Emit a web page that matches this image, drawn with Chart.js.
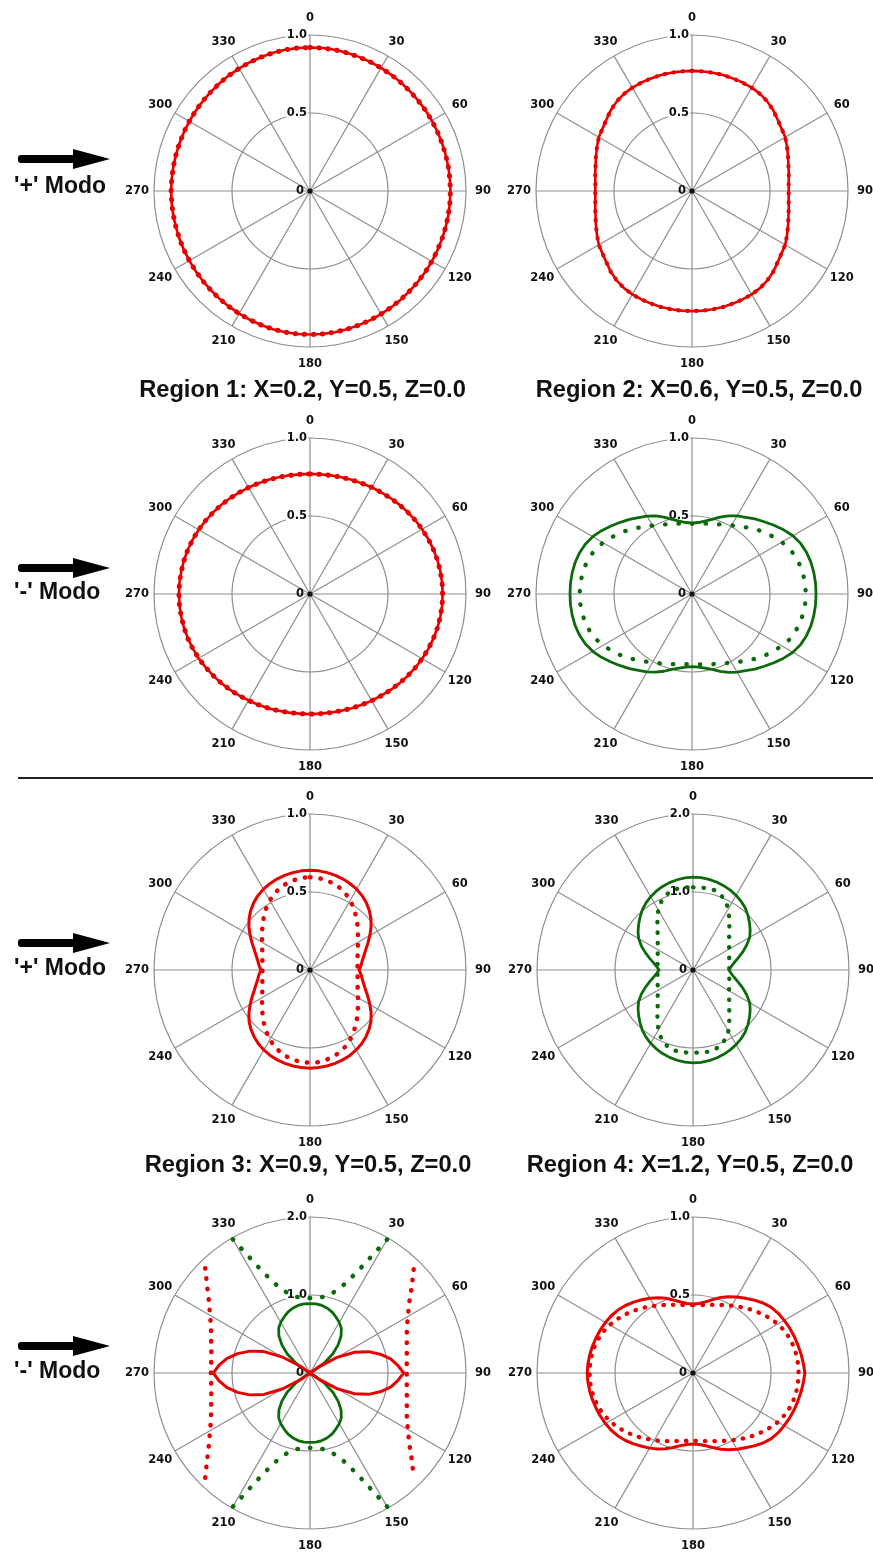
<!DOCTYPE html>
<html>
<head>
<meta charset="utf-8">
<script src="https://cdn.jsdelivr.net/npm/chart.js@4.4.1/dist/chart.umd.min.js"></script>
<style>
  html, body { margin: 0; padding: 0; background: #fff; }
  body { width: 873px; height: 1554px; position: relative; overflow: hidden;
         font-family: "Liberation Sans", Arial, sans-serif; color: #111; }
  canvas.polar { position: absolute; }
  .title { position: absolute; font-weight: bold; font-size: 23.7px; line-height: 1;
           white-space: nowrap; transform: translateX(-50%); }
  .mode { position: absolute; left: 14px; font-weight: bold; font-size: 23px; line-height: 1;
          white-space: nowrap; }
  .arrow { position: absolute; left: 16px; }
  .rule { position: absolute; left: 18px; right: 0; top: 777px; height: 2px; background: #222; }
</style>
</head>
<body>
<script>
// Angular categories (degrees, clockwise from the top)
const ANGLES = [
  0, 5, 10, 15, 20, 25, 30, 35, 40, 45, 50, 55, 60, 65, 70, 75, 80, 85,
  90, 95, 100, 105, 110, 115, 120, 125, 130, 135, 140, 145, 150, 155, 160, 165, 170, 175,
  180, 185, 190, 195, 200, 205, 210, 215, 220, 225, 230, 235, 240, 245, 250, 255, 260, 265,
  270, 275, 280, 285, 290, 295, 300, 305, 310, 315, 320, 325, 330, 335, 340, 345, 350, 355
];
// Angles that carry a label and a spoke
const ANGLE_TICKS = [0, 30, 60, 90, 120, 150, 180, 210, 240, 270, 300, 330];

const TITLES = [
  'Region 1: X=0.2, Y=0.5, Z=0.0',
  'Region 2: X=0.6, Y=0.5, Z=0.0',
  'Region 3: X=0.9, Y=0.5, Z=0.0',
  'Region 4: X=1.2, Y=0.5, Z=0.0'
];
const MODES = ["'+' Modo", "'-' Modo", "'+' Modo", "'-' Modo"];

// Region 1, '+' mode
const R1_PLUS = [
  0.920, 0.920, 0.919, 0.917, 0.915, 0.913, 0.911, 0.909, 0.907, 0.905, 0.904, 0.903, 0.902, 0.901, 0.900, 0.900, 0.900, 0.900,
  0.900, 0.900, 0.900, 0.900, 0.900, 0.901, 0.902, 0.903, 0.904, 0.905, 0.907, 0.909, 0.911, 0.913, 0.915, 0.917, 0.919, 0.920,
  0.920, 0.920, 0.919, 0.917, 0.914, 0.911, 0.908, 0.905, 0.902, 0.899, 0.897, 0.895, 0.893, 0.892, 0.891, 0.890, 0.890, 0.890,
  0.890, 0.890, 0.890, 0.890, 0.891, 0.892, 0.893, 0.895, 0.897, 0.899, 0.902, 0.905, 0.908, 0.911, 0.914, 0.917, 0.919, 0.920
];
// Region 2, '+' mode
const R2_PLUS = [
  0.770, 0.770, 0.770, 0.770, 0.768, 0.767, 0.765, 0.760, 0.750, 0.735, 0.715, 0.700, 0.690, 0.672, 0.655, 0.640, 0.630, 0.622,
  0.620, 0.622, 0.630, 0.640, 0.655, 0.672, 0.690, 0.700, 0.715, 0.735, 0.750, 0.760, 0.765, 0.767, 0.768, 0.770, 0.770, 0.770,
  0.770, 0.770, 0.770, 0.770, 0.768, 0.767, 0.765, 0.760, 0.750, 0.735, 0.715, 0.700, 0.690, 0.672, 0.655, 0.640, 0.630, 0.622,
  0.620, 0.622, 0.630, 0.640, 0.655, 0.672, 0.690, 0.700, 0.715, 0.735, 0.750, 0.760, 0.765, 0.767, 0.768, 0.770, 0.770, 0.770
];
// Region 1, '-' mode
const R1_MINUS = [
  0.770, 0.770, 0.772, 0.775, 0.779, 0.784, 0.790, 0.796, 0.803, 0.810, 0.817, 0.824, 0.830, 0.836, 0.841, 0.845, 0.848, 0.850,
  0.850, 0.850, 0.848, 0.845, 0.841, 0.836, 0.830, 0.824, 0.817, 0.810, 0.803, 0.796, 0.790, 0.784, 0.779, 0.775, 0.772, 0.770,
  0.770, 0.770, 0.772, 0.775, 0.779, 0.783, 0.788, 0.794, 0.800, 0.806, 0.812, 0.818, 0.824, 0.829, 0.833, 0.836, 0.838, 0.840,
  0.840, 0.840, 0.838, 0.836, 0.833, 0.829, 0.824, 0.818, 0.812, 0.806, 0.800, 0.794, 0.788, 0.783, 0.779, 0.775, 0.772, 0.770
];
// Region 2, '-' mode
const R2_MINUS_SOLID = [
  0.455, 0.460, 0.475, 0.495, 0.525, 0.553, 0.578, 0.600, 0.628, 0.655, 0.685, 0.717, 0.747, 0.768, 0.781, 0.789, 0.793, 0.795,
  0.795, 0.795, 0.793, 0.789, 0.781, 0.768, 0.747, 0.717, 0.685, 0.655, 0.628, 0.600, 0.578, 0.555, 0.528, 0.500, 0.482, 0.470,
  0.465, 0.470, 0.482, 0.500, 0.527, 0.553, 0.576, 0.598, 0.624, 0.650, 0.678, 0.708, 0.735, 0.755, 0.768, 0.776, 0.780, 0.782,
  0.782, 0.782, 0.780, 0.776, 0.768, 0.755, 0.735, 0.708, 0.678, 0.650, 0.624, 0.598, 0.576, 0.553, 0.525, 0.495, 0.475, 0.460
];
const R2_MINUS_DOTTED = [
  0.450, 0.452, 0.458, 0.466, 0.476, 0.490, 0.508, 0.530, 0.555, 0.585, 0.612, 0.638, 0.665, 0.690, 0.705, 0.716, 0.724, 0.728,
  0.730, 0.728, 0.724, 0.716, 0.705, 0.690, 0.665, 0.638, 0.612, 0.585, 0.555, 0.530, 0.508, 0.490, 0.476, 0.466, 0.458, 0.452,
  0.450, 0.452, 0.458, 0.466, 0.476, 0.490, 0.507, 0.528, 0.552, 0.580, 0.606, 0.632, 0.658, 0.682, 0.697, 0.708, 0.715, 0.719,
  0.720, 0.719, 0.715, 0.708, 0.697, 0.682, 0.658, 0.632, 0.606, 0.580, 0.552, 0.528, 0.507, 0.490, 0.476, 0.466, 0.458, 0.452
];
// Region 3, '+' mode
const R3_PLUS_SOLID = [
  0.640, 0.638, 0.634, 0.628, 0.620, 0.610, 0.598, 0.582, 0.562, 0.538, 0.510, 0.478, 0.443, 0.410, 0.380, 0.358, 0.340, 0.328,
  0.315, 0.328, 0.340, 0.358, 0.380, 0.410, 0.443, 0.478, 0.510, 0.536, 0.558, 0.577, 0.592, 0.604, 0.613, 0.620, 0.625, 0.628,
  0.630, 0.628, 0.625, 0.620, 0.613, 0.604, 0.592, 0.577, 0.558, 0.536, 0.510, 0.478, 0.443, 0.410, 0.380, 0.358, 0.340, 0.328,
  0.315, 0.328, 0.340, 0.358, 0.380, 0.410, 0.443, 0.478, 0.510, 0.538, 0.562, 0.582, 0.598, 0.610, 0.620, 0.628, 0.634, 0.638
];
const R3_PLUS_DOTTED = [
  0.595, 0.593, 0.586, 0.575, 0.560, 0.540, 0.515, 0.487, 0.457, 0.428, 0.400, 0.375, 0.355, 0.338, 0.325, 0.316, 0.310, 0.306,
  0.305, 0.306, 0.310, 0.316, 0.325, 0.338, 0.355, 0.375, 0.400, 0.428, 0.457, 0.487, 0.515, 0.540, 0.560, 0.575, 0.586, 0.593,
  0.595, 0.593, 0.586, 0.575, 0.560, 0.540, 0.515, 0.487, 0.457, 0.428, 0.400, 0.375, 0.355, 0.338, 0.325, 0.316, 0.310, 0.306,
  0.305, 0.306, 0.310, 0.316, 0.325, 0.338, 0.355, 0.375, 0.400, 0.428, 0.457, 0.487, 0.515, 0.540, 0.560, 0.575, 0.586, 0.593
];
// Region 4, '+' mode
const R4_PLUS_SOLID = [
  1.190, 1.188, 1.180, 1.168, 1.150, 1.130, 1.105, 1.075, 1.040, 0.995, 0.945, 0.895, 0.840, 0.760, 0.680, 0.600, 0.535, 0.490,
  0.460, 0.490, 0.535, 0.600, 0.680, 0.760, 0.840, 0.895, 0.945, 0.995, 1.040, 1.075, 1.105, 1.130, 1.150, 1.168, 1.180, 1.188,
  1.190, 1.186, 1.175, 1.160, 1.140, 1.115, 1.085, 1.050, 1.010, 0.960, 0.910, 0.860, 0.805, 0.730, 0.650, 0.575, 0.510, 0.465,
  0.435, 0.465, 0.510, 0.575, 0.650, 0.730, 0.805, 0.860, 0.910, 0.960, 1.010, 1.050, 1.085, 1.115, 1.140, 1.160, 1.175, 1.186
];
const R4_PLUS_DOTTED = [
  1.060, 1.062, 1.065, 1.060, 1.030, 0.980, 0.905, 0.810, 0.725, 0.655, 0.605, 0.565, 0.535, 0.510, 0.494, 0.482, 0.472, 0.466,
  0.465, 0.466, 0.472, 0.482, 0.494, 0.510, 0.535, 0.565, 0.605, 0.655, 0.725, 0.810, 0.905, 0.980, 1.030, 1.060, 1.065, 1.062,
  1.060, 1.062, 1.063, 1.055, 1.020, 0.965, 0.890, 0.795, 0.710, 0.640, 0.590, 0.552, 0.523, 0.499, 0.483, 0.471, 0.462, 0.456,
  0.455, 0.456, 0.462, 0.471, 0.483, 0.499, 0.523, 0.552, 0.590, 0.640, 0.710, 0.795, 0.890, 0.965, 1.020, 1.055, 1.063, 1.062
];
// Region 3, '-' mode (values beyond the outer ring are left empty)
const R3_MINUS_RED_SOLID = [
  0, 0, 0, 0, 0, 0, 0, 0, 0, 0, 0, 0.15, 0.40, 0.63, 0.80, 0.93, 1.05, 1.13,
  1.20, 1.13, 1.05, 0.93, 0.80, 0.63, 0.40, 0.15, 0, 0, 0, 0, 0, 0, 0, 0, 0, 0,
  0, 0, 0, 0, 0, 0, 0, 0, 0, 0, 0, 0.15, 0.41, 0.65, 0.82, 0.96, 1.08, 1.17,
  1.24, 1.17, 1.08, 0.96, 0.82, 0.65, 0.41, 0.15, 0, 0, 0, 0, 0, 0, 0, 0, 0, 0
];
const R3_MINUS_RED_DOTTED = [
  null, null, null, null, null, null, null, null, null, 1.88, 1.70, 1.55, 1.45, 1.37, 1.32, 1.285, 1.26, 1.245,
  1.24, 1.245, 1.26, 1.285, 1.32, 1.37, 1.45, 1.55, 1.70, 1.88, null, null, null, null, null, null, null, null,
  null, null, null, null, null, null, null, null, null, 1.90, 1.72, 1.58, 1.48, 1.40, 1.35, 1.31, 1.285, 1.272,
  1.27, 1.272, 1.285, 1.31, 1.35, 1.40, 1.48, 1.58, 1.72, 1.90, null, null, null, null, null, null, null, null
];
const R3_MINUS_GREEN_SOLID = [
  0.89, 0.89, 0.88, 0.86, 0.83, 0.79, 0.75, 0.70, 0.62, 0.51, 0.38, 0.22, 0.06, 0, 0, 0, 0, 0,
  0, 0, 0, 0, 0, 0, 0.06, 0.22, 0.38, 0.51, 0.62, 0.70, 0.75, 0.79, 0.83, 0.86, 0.88, 0.89,
  0.89, 0.89, 0.88, 0.86, 0.83, 0.79, 0.75, 0.70, 0.62, 0.51, 0.38, 0.22, 0.06, 0, 0, 0, 0, 0,
  0, 0, 0, 0, 0, 0, 0.06, 0.22, 0.38, 0.51, 0.62, 0.70, 0.75, 0.79, 0.83, 0.86, 0.88, 0.89
];
const R3_MINUS_GREEN_DOTTED = [
  0.96, 0.97, 0.99, 1.05, 1.17, 1.43, 1.98, null, null, null, null, null, null, null, null, null, null, null,
  null, null, null, null, null, null, null, null, null, null, null, null, 1.98, 1.43, 1.17, 1.05, 0.99, 0.97,
  0.96, 0.97, 0.99, 1.05, 1.17, 1.43, 1.98, null, null, null, null, null, null, null, null, null, null, null,
  null, null, null, null, null, null, null, null, null, null, null, null, 1.98, 1.43, 1.17, 1.05, 0.99, 0.97
];
// Region 4, '-' mode
const R4_MINUS_SOLID = [
  0.442, 0.447, 0.463, 0.487, 0.515, 0.540, 0.562, 0.585, 0.610, 0.635, 0.655, 0.667, 0.675, 0.683, 0.690, 0.696, 0.703, 0.710,
  0.717, 0.710, 0.703, 0.696, 0.690, 0.683, 0.675, 0.667, 0.655, 0.635, 0.610, 0.585, 0.565, 0.543, 0.520, 0.495, 0.474, 0.460,
  0.455, 0.460, 0.473, 0.494, 0.517, 0.538, 0.556, 0.573, 0.593, 0.612, 0.628, 0.640, 0.648, 0.655, 0.661, 0.667, 0.672, 0.676,
  0.678, 0.676, 0.672, 0.667, 0.661, 0.655, 0.648, 0.640, 0.628, 0.612, 0.593, 0.573, 0.553, 0.533, 0.510, 0.485, 0.462, 0.447
];
const R4_MINUS_DOTTED = [
  0.435, 0.437, 0.443, 0.452, 0.465, 0.480, 0.498, 0.518, 0.540, 0.562, 0.585, 0.607, 0.628, 0.645, 0.658, 0.667, 0.673, 0.676,
  0.677, 0.676, 0.673, 0.667, 0.658, 0.645, 0.628, 0.607, 0.585, 0.562, 0.540, 0.518, 0.498, 0.480, 0.465, 0.452, 0.443, 0.437,
  0.435, 0.437, 0.443, 0.452, 0.465, 0.480, 0.497, 0.516, 0.537, 0.557, 0.578, 0.598, 0.616, 0.632, 0.644, 0.653, 0.659, 0.662,
  0.663, 0.662, 0.659, 0.653, 0.644, 0.632, 0.616, 0.598, 0.578, 0.557, 0.537, 0.516, 0.497, 0.480, 0.465, 0.452, 0.443, 0.437
];

// ---------- styling ----------
const RED = '#e80000';
const GREEN = '#0b6b0b';
const GRID = '#8e8e8e';
const LABEL_FONT = 'bold 11.5px "DejaVu Sans", sans-serif';
const SIZE = 400;      // canvas side
const PAD = 44;        // leaves a 156 px radius

function solid(data, color, width) {
  return { data, borderColor: color, borderWidth: width, fill: false,
           pointRadius: 0, pointHoverRadius: 0, borderJoinStyle: 'round', spanGaps: false };
}
function dotted(data, color, width, gap) {
  return { data, borderColor: color, borderWidth: width, fill: false,
           borderDash: [0.5, gap], borderCapStyle: 'round',
           pointRadius: 0, pointHoverRadius: 0, spanGaps: false };
}

// Angle labels, radial value labels and the origin marker
const polarLabels = {
  id: 'polarLabels',
  beforeDatasetsDraw(chart) {
    const r = chart.scales.r;
    const ctx = chart.ctx;
    ctx.save();
    ctx.font = LABEL_FONT;
    ctx.textBaseline = 'middle';
    ctx.fillStyle = '#111';
    ctx.textAlign = 'center';
    chart.data.labels.forEach((lab, i) => {
      if (!ANGLE_TICKS.includes(lab)) return;
      const p = r.getPointPosition(i, r.drawingArea + 17);
      ctx.fillText(String(lab), p.x, p.y + 0.5);
    });
    ctx.textAlign = 'right';
    r.ticks.forEach(t => {
      const d = r.getDistanceFromCenterForValue(t.value);
      const txt = t.value === 0 ? '0' : t.value.toFixed(1);
      const x = r.xCenter - (t.value === 0 ? 6 : 3);
      const y = r.yCenter - d;
      if (t.value !== 0) {
        const w = ctx.measureText(txt).width;
        ctx.fillStyle = '#fff';
        ctx.fillRect(x - w - 1, y - 4, w + 2, 8);
        ctx.fillStyle = '#111';
      }
      ctx.fillText(txt, x, y + 0.5);
    });
    ctx.beginPath();
    ctx.arc(r.xCenter, r.yCenter, 2.6, 0, Math.PI * 2);
    ctx.fill();
    ctx.restore();
  }
};

const PANELS = [
  { cx: 310, cy: 191, max: 1, step: 0.5,
    series: [solid(R1_PLUS, RED, 2.6), dotted(R1_PLUS, RED, 5, 8.5)] },
  { cx: 692, cy: 191, max: 1, step: 0.5,
    series: [solid(R2_PLUS, RED, 2.6), dotted(R2_PLUS, RED, 4.2, 8.5)] },
  { cx: 310, cy: 594, max: 1, step: 0.5,
    series: [solid(R1_MINUS, RED, 2.6), dotted(R1_MINUS, RED, 5, 8.5)] },
  { cx: 692, cy: 594, max: 1, step: 0.5,
    series: [solid(R2_MINUS_SOLID, GREEN, 2.8), dotted(R2_MINUS_DOTTED, GREEN, 4.3, 13)] },
  { cx: 310, cy: 970, max: 1, step: 0.5,
    series: [solid(R3_PLUS_SOLID, RED, 3), dotted(R3_PLUS_DOTTED, RED, 4.5, 10)] },
  { cx: 693, cy: 970, max: 2, step: 1,
    series: [solid(R4_PLUS_SOLID, GREEN, 2.8), dotted(R4_PLUS_DOTTED, GREEN, 4.3, 10)] },
  { cx: 310, cy: 1373, max: 2, step: 1,
    series: [solid(R3_MINUS_RED_SOLID, RED, 3), solid(R3_MINUS_GREEN_SOLID, GREEN, 2.8),
             dotted(R3_MINUS_RED_DOTTED, RED, 4.5, 10), dotted(R3_MINUS_GREEN_DOTTED, GREEN, 4.5, 12)] },
  { cx: 693, cy: 1373, max: 1, step: 0.5,
    series: [solid(R4_MINUS_SOLID, RED, 3), dotted(R4_MINUS_DOTTED, RED, 4.3, 9)] }
];

PANELS.forEach(p => {
  const cv = document.createElement('canvas');
  cv.className = 'polar';
  cv.width = SIZE; cv.height = SIZE;
  cv.style.left = (p.cx - SIZE / 2) + 'px';
  cv.style.top = (p.cy - SIZE / 2) + 'px';
  document.body.appendChild(cv);
  new Chart(cv, {
    type: 'radar',
    data: { labels: ANGLES, datasets: p.series },
    options: {
      responsive: false,
      animation: false,
      devicePixelRatio: 1,
      layout: { padding: PAD },
      events: [],
      plugins: { legend: { display: false }, tooltip: { enabled: false } },
      elements: { line: { tension: 0 } },
      scales: {
        r: {
          min: 0, max: p.max,
          ticks: { display: false, stepSize: p.step },
          pointLabels: { display: false },
          grid: { circular: true, color: GRID, lineWidth: 1.2 },
          angleLines: {
            color: GRID,
            lineWidth: c => (ANGLE_TICKS.includes(ANGLES[c.index]) ? 1.2 : 0)
          }
        }
      }
    },
    plugins: [polarLabels]
  });
});

// ---------- page annotations ----------
function addTitle(text, cx, top) {
  const d = document.createElement('div');
  d.className = 'title'; d.textContent = text;
  d.style.left = cx + 'px'; d.style.top = top + 'px';
  document.body.appendChild(d);
}
addTitle(TITLES[0], 302.5, 378);
addTitle(TITLES[1], 699, 378);
addTitle(TITLES[2], 308, 1153);
addTitle(TITLES[3], 690, 1153);

const ROW_MARKS = [
  { arrowY: 159, textTop: 174 },
  { arrowY: 568, textTop: 580 },
  { arrowY: 943, textTop: 956 },
  { arrowY: 1346, textTop: 1359 }
];
ROW_MARKS.forEach((m, i) => {
  const svg = document.createElementNS('http://www.w3.org/2000/svg', 'svg');
  svg.setAttribute('class', 'arrow');
  svg.setAttribute('width', '96'); svg.setAttribute('height', '24');
  svg.style.top = (m.arrowY - 12) + 'px';
  svg.innerHTML = '<rect x="2" y="8" width="58" height="8" rx="3" fill="#000"/>' +
                  '<polygon points="57,2 94,12 57,22" fill="#000"/>';
  document.body.appendChild(svg);
  const t = document.createElement('div');
  t.className = 'mode'; t.textContent = MODES[i];
  t.style.top = m.textTop + 'px';
  document.body.appendChild(t);
});

const rule = document.createElement('div');
rule.className = 'rule';
document.body.appendChild(rule);
</script>
</body>
</html>
